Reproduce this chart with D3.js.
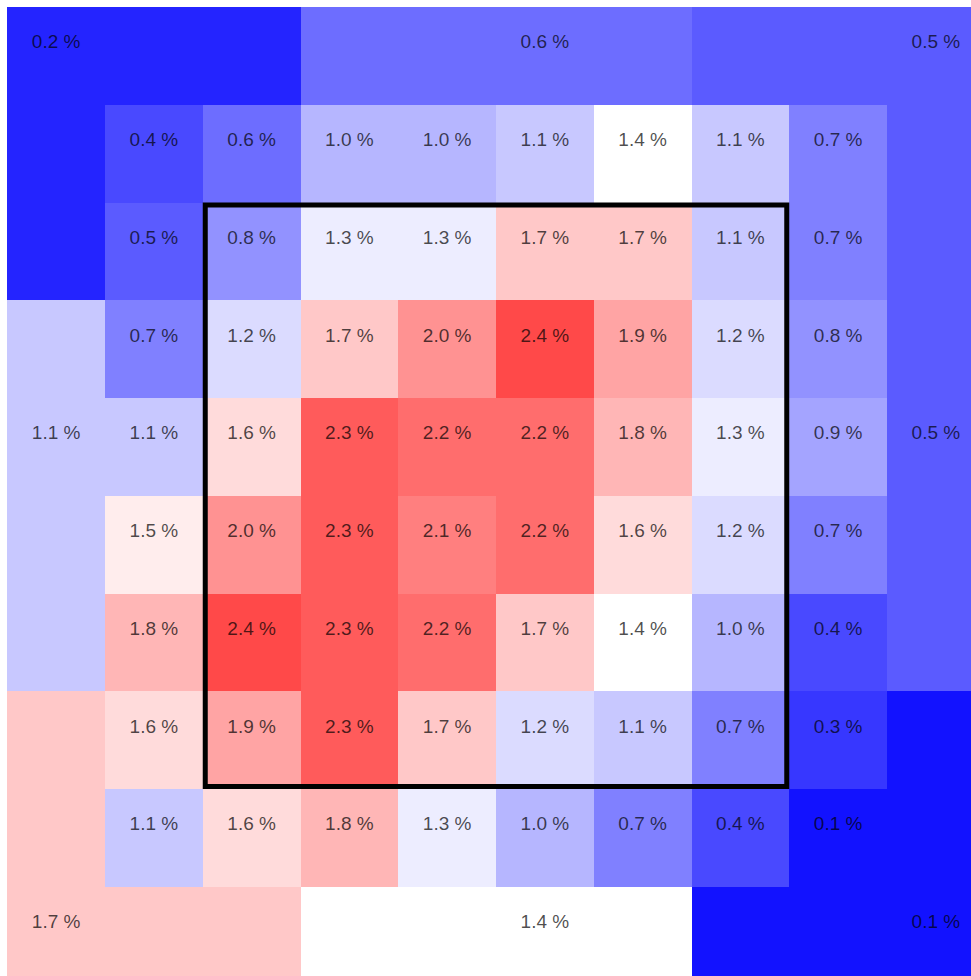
<!DOCTYPE html>
<html>
<head>
<meta charset="utf-8">
<script src="https://cdn.jsdelivr.net/npm/d3@7"></script>
<style>
  body { margin: 0; background: #fff; overflow: hidden; }
  svg { display: block; }
</style>
</head>
<body>
<script>
// inner 8x8 grid, rows top to bottom (values in %)
var innerRows = [
  [0.4, 0.6, 1.0, 1.0, 1.1, 1.4, 1.1, 0.7],
  [0.5, 0.8, 1.3, 1.3, 1.7, 1.7, 1.1, 0.7],
  [0.7, 1.2, 1.7, 2.0, 2.4, 1.9, 1.2, 0.8],
  [1.1, 1.6, 2.3, 2.2, 2.2, 1.8, 1.3, 0.9],
  [1.5, 2.0, 2.3, 2.1, 2.2, 1.6, 1.2, 0.7],
  [1.8, 2.4, 2.3, 2.2, 1.7, 1.4, 1.0, 0.4],
  [1.6, 1.9, 2.3, 1.7, 1.2, 1.1, 0.7, 0.3],
  [1.1, 1.6, 1.8, 1.3, 1.0, 0.7, 0.4, 0.1]
];

// outer ring regions
var outerNames = ["TL", "T", "TR", "R", "BR", "B", "BL", "L"];
var outerValues = [0.2, 0.6, 0.5, 0.5, 0.1, 1.4, 1.7, 1.1];

// colour stops
var colorDomain = [0, 1.4, 2.8];
var colorRange = ["#0000ff", "#ffffff", "#ff0000"];

var w = 971;
var h = 976;
var cell = 97.75;

// which region each cell of the 10x10 board belongs to ("" = inner grid)
var layout = [
  ["TL","TL","TL","T","T","T","T","TR","TR","TR"],
  ["TL","","","","","","","","","TR"],
  ["TL","","","","","","","","","TR"],
  ["L","","","","","","","","","R"],
  ["L","","","","","","","","","R"],
  ["L","","","","","","","","","R"],
  ["L","","","","","","","","","R"],
  ["BL","","","","","","","","","BR"],
  ["BL","","","","","","","","","BR"],
  ["BL","BL","BL","B","B","B","B","BR","BR","BR"]
];
// cell that carries each outer region's label
var labelAt = {TL: [0, 0], T: [0, 5], TR: [0, 9], R: [4, 9], BR: [9, 9], B: [9, 5], BL: [9, 0], L: [4, 0]};

var svg = d3.select("body").append("svg")
  .attr("width", w)
  .attr("height", h);

var idx = d3.range(10);
var xScale = d3.scaleBand().domain(idx).range([7.25, 7.25 + cell * 10]);
var yScale = d3.scaleBand().domain(idx).range([7, 7 + cell * 10]);

var color = d3.scaleLinear().domain(colorDomain).range(colorRange);

// build cell list
var cells = [];
var labels = [];
layout.forEach(function(row, r) {
  row.forEach(function(reg, c) {
    var v;
    if (reg == "") {
      v = innerRows[r - 1][c - 1];
      labels.push({r: r, c: c, v: v});
    } else {
      v = outerValues[outerNames.indexOf(reg)];
    }
    cells.push({r: r, c: c, v: v});
  });
});
outerNames.forEach(function(n, i) {
  labels.push({r: labelAt[n][0], c: labelAt[n][1], v: outerValues[i]});
});

svg.selectAll("rect.cell")
  .data(cells)
  .enter().append("rect")
  .attr("class", "cell")
  .attr("x", function(d) { return xScale(d.c); })
  .attr("y", function(d) { return yScale(d.r); })
  .attr("width", xScale.bandwidth() + 0.5)
  .attr("height", yScale.bandwidth() + 0.5)
  .attr("shape-rendering", "crispEdges")
  .attr("fill", function(d) { return color(d.v); });

svg.selectAll("text.lbl")
  .data(labels)
  .enter().append("text")
  .attr("class", "lbl")
  .attr("x", function(d) { return xScale(d.c) + cell / 2; })
  .attr("y", function(d) { return yScale(d.r) + cell / 2 - 7.5; })
  .attr("text-anchor", "middle")
  .style("font-family", "'Liberation Sans', Arial, sans-serif")
  .style("font-size", "19px")
  .attr("fill", "#000")
  .attr("fill-opacity", 0.7)
  .text(function(d) { return d3.format(".1f")(d.v) + " %"; });

// strike zone box (cols/rows 2..7)
var sw = 5;
svg.append("rect")
  .attr("x", xScale(2) + sw / 2)
  .attr("y", yScale(2) + sw / 2)
  .attr("width", xScale(8) - xScale(2) - sw)
  .attr("height", yScale(8) - yScale(2) - sw)
  .attr("fill", "none")
  .attr("stroke", "#000")
  .attr("stroke-width", sw);
</script>
</body>
</html>
